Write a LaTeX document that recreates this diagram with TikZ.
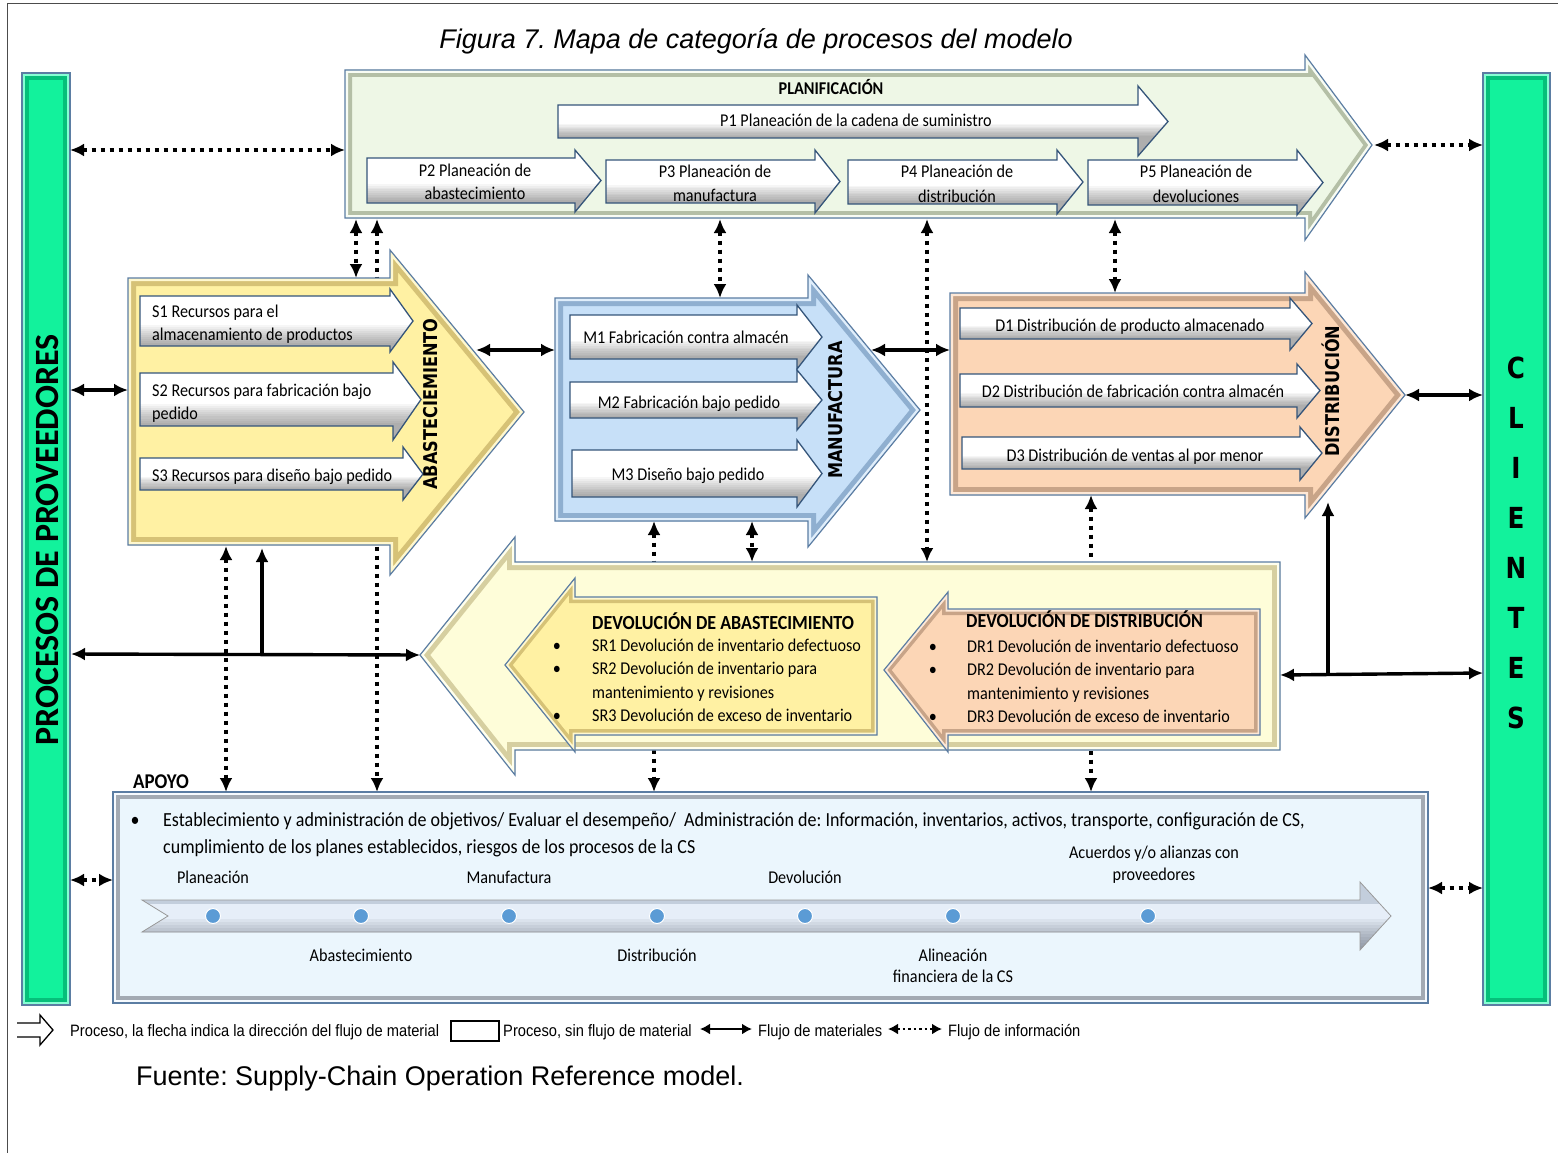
\documentclass[tikz,border=0pt]{standalone}
\usepackage{fontspec}
\setmainfont{Carlito}[FakeStretch=0.9]
\newfontfamily\calfull{Carlito}
\newfontfamily\vsans{DejaVu Sans}[FakeStretch=0.85]
\newfontfamily\arialf{Liberation Sans}
\newfontfamily\arialn{Liberation Sans}[FakeStretch=0.89]
\usetikzlibrary{arrows.meta}

\definecolor{edgeblue}{HTML}{5B7DA3}
\definecolor{procedge}{HTML}{35557A}
\definecolor{planfill}{HTML}{EEF7E6}
\definecolor{plandark}{HTML}{B4BFA6}
\definecolor{planlight}{HTML}{F8FCF4}
\definecolor{abfill}{HTML}{FFF1A3}
\definecolor{abdark}{HTML}{D6C276}
\definecolor{ablight}{HTML}{FFF8CF}
\definecolor{mafill}{HTML}{C7E0F8}
\definecolor{madark}{HTML}{8FAFD0}
\definecolor{malight}{HTML}{E0EEFB}
\definecolor{difill}{HTML}{FCD6B6}
\definecolor{didark}{HTML}{C8A488}
\definecolor{dilight}{HTML}{FEE8D6}
\definecolor{dvfill}{HTML}{FEFDD9}
\definecolor{dvdark}{HTML}{D6CFA0}
\definecolor{dvlight}{HTML}{FFFFEE}
\definecolor{apfill}{HTML}{EBF6FD}
\definecolor{apdark}{HTML}{A3AAB3}
\definecolor{aplight}{HTML}{F6FAFE}
\definecolor{grfill}{HTML}{12F29C}
\definecolor{grdark}{HTML}{06BF7A}
\definecolor{grlight}{HTML}{86FFD3}
\definecolor{dotblue}{HTML}{5B9BD5}
\definecolor{tlhi}{HTML}{C3CEDC}
\definecolor{tlmid}{HTML}{E6EEF8}
\definecolor{tllo}{HTML}{4E5866}

% framed shape: fill, then two inner bands clipped to the outline
\newcommand\bevel[6]{%
  \fill[#2] #1;
  \begin{scope}
    \clip #1;
    \draw[#3, line width=#5] #1;
    \draw[#4, line width=#6] #1;
  \end{scope}
  \draw[edgeblue, line width=1.2pt] #1;
}
% white process arrow: left, top, bottom, head base, head top, tip x, head bottom
% white upper part, greying towards the lower edge
\newcommand\proc[7]{%
  \begin{scope}
    \clip (#1,#2)--(#4,#2)--(#4,#5)--(#6,{(#2+#3)/2})--(#4,#7)--(#4,#3)--(#1,#3)--cycle;
    \fill[white] (#1,#5) rectangle (#6,#7);
    \foreach \i in {0,...,9}
      \fill[black, opacity=0.035] (#1,{#2+(0.58+0.04*\i)*(#3-#2)}) rectangle (#6,#7);
  \end{scope}
  \draw[procedge, line width=1.3pt]
    (#1,#2)--(#4,#2)--(#4,#5)--(#6,{(#2+#3)/2})--(#4,#7)--(#4,#3)--(#1,#3)--cycle;
}

\def\shProv{(22,73)--(70,73)--(70,1005)--(22,1005)--cycle}
\def\shClie{(1483,73)--(1550,73)--(1550,1005)--(1483,1005)--cycle}
\def\shPlan{(345,70)--(1305,70)--(1305,55)--(1372,145)--(1305,240)--(1305,218)--(345,218)--cycle}
\def\shAbas{(128,278)--(390,278)--(390,250)--(524,412)--(390,575)--(390,545)--(128,545)--cycle}
\def\shManu{(555,298)--(808,298)--(808,275)--(920,410)--(808,547)--(808,521)--(555,521)--cycle}
\def\shDist{(950,293)--(1305,293)--(1305,272)--(1405,395)--(1305,518)--(1305,495)--(950,495)--cycle}
\def\shDevo{(1280,562)--(515,562)--(515,537)--(420,655)--(515,775)--(515,750)--(1280,750)--cycle}
\def\shSR{(877,597)--(575,597)--(575,578)--(505,665)--(575,752)--(575,735)--(877,735)--cycle}
\def\shDR{(1260,609)--(948,609)--(948,592)--(884,670)--(948,752)--(948,735)--(1260,735)--cycle}
\def\shApoyo{(113,792)--(1428,792)--(1428,1003)--(113,1003)--cycle}
\def\shLine{(142,900)--(1360,900)--(1360,882)--(1391,916)--(1360,950)--(1360,932)--(142,932)--(168,916)--cycle}

\tikzset{
  flowtip/.tip={Latex[length=14pt,width=13pt]},
  smalltip/.tip={Latex[length=10pt,width=11pt]},
  matflow/.style={line width=3.4pt, {flowtip}-{flowtip}},
  matone/.style={line width=3.4pt, -{flowtip}},
  infoflow/.style={line width=4pt, dash pattern=on 4pt off 5pt, {flowtip}-{flowtip}},
  txt/.style={font=\fontsize{18}{22}\selectfont, inner sep=0pt, anchor=base},
  txtl/.style={txt, anchor=base west},
  hd/.style={font=\fontsize{20}{24}\selectfont\bfseries, inner sep=0pt, anchor=base west},
  vlab/.style={font=\vsans\bfseries\fontsize{19}{22}\selectfont, rotate=90, inner sep=0pt},
  apx/.style={font=\fontsize{20}{24}\selectfont, inner sep=0pt, anchor=base west},
  leg/.style={font=\arialn\fontsize{16.5}{18}\selectfont, inner sep=0pt, anchor=base west},
  tdot/.style={circle, fill=dotblue, draw=white, line width=1pt, minimum size=15pt, inner sep=0pt},
}

\begin{document}
\frenchspacing
\begin{tikzpicture}[x=1pt,y=-1pt]
\useasboundingbox (0,0) rectangle (1558,1153);
\fill[white] (0,0) rectangle (1558,1153);
\draw[black!70, line width=1pt] (7,1153)--(7,4)--(1558,4);

\node[font=\arialf\itshape\fontsize{27}{30}\selectfont, inner sep=0pt, anchor=base] (title) at (756,49)
  {Figura 7. Mapa de categoría de procesos del modelo};

% ---- connector end points ----
\coordinate (pv-1) at (70,150);   \coordinate (pl-w) at (345,150);
\coordinate (pl-e) at (1374,145); \coordinate (cl-1) at (1483,145);
\coordinate (pv-2) at (70,390);   \coordinate (ab-w) at (128,390);
\coordinate (ab-e) at (476,350);  \coordinate (ma-w) at (555,350);
\coordinate (ma-e) at (871,350);  \coordinate (di-w) at (950,350);
\coordinate (di-e) at (1405,395); \coordinate (cl-2) at (1483,395);
\coordinate (pv-3) at (71,654);   \coordinate (dv-w) at (420,655);
\coordinate (j1) at (262,654);    \coordinate (ab-s1) at (262,548);
\coordinate (dv-e) at (1280,675); \coordinate (cl-3) at (1483,673);
\coordinate (j2) at (1328,674);   \coordinate (di-s2) at (1328,502);
\coordinate (pv-4) at (70,880);   \coordinate (ap-w) at (113,880);
\coordinate (ap-e) at (1428,888); \coordinate (cl-4) at (1483,888);
\coordinate (pl-s1) at (356,219); \coordinate (ab-n1) at (356,278);
\coordinate (pl-s2) at (377,219); \coordinate (ap-n2) at (377,792);
\coordinate (ab-s2) at (226,546); \coordinate (ap-n1) at (226,792);
\coordinate (pl-s3) at (720,219); \coordinate (ma-n) at (720,298);
\coordinate (pl-s4) at (927,219); \coordinate (dv-n1) at (927,562);
\coordinate (pl-s5) at (1115,219);\coordinate (di-n) at (1115,293);
\coordinate (ma-s1) at (654,521); \coordinate (ap-n3) at (654,792);
\coordinate (ma-s2) at (752,521); \coordinate (dv-n2) at (752,562);
\coordinate (di-s1) at (1091,495);\coordinate (ap-n4) at (1091,792);

% information lines running behind the process blocks
\draw[infoflow] (pl-s2) -- (ap-n2);
\draw[infoflow] (ma-s1) -- (ap-n3);
\draw[infoflow] (di-s1) -- (ap-n4);

% ---- side bars ----
\bevel{\shProv}{grfill}{grdark}{grlight}{14pt}{6pt}
\bevel{\shClie}{grfill}{grdark}{grlight}{14pt}{6pt}
\node[font=\calfull\bfseries\fontsize{34}{38}\selectfont, rotate=90, inner sep=0pt] (prov) at (47,540)
  {PROCESOS DE PROVEEDORES};
\node[font=\vsans\bfseries\fontsize{29}{49.9}\selectfont, align=center, inner sep=0pt] (clie) at (1516,543)
  {C\\L\\I\\E\\N\\T\\E\\S};

% ---- planning ----
\bevel{\shPlan}{planfill}{plandark}{planlight}{14pt}{6pt}
\node[font=\fontsize{18}{22}\selectfont\bfseries, inner sep=0pt, anchor=base] (plan) at (831,95) {PLANIFICACIÓN};
\proc{558}{105}{138}{1138}{86}{1168}{156}
\proc{367}{158}{203}{575}{150}{601}{212}
\proc{606}{160}{203}{815}{150}{840}{213}
\proc{848}{160}{204}{1057}{150}{1083}{214}
\proc{1088}{160}{205}{1297}{150}{1323}{215}
\node[txt] (p1) at (856,127) {P1 Planeación de la cadena de suministro};
\node[txt] (p2a) at (475,176) {P2 Planeación de};
\node[txt] (p2b) at (475,199) {abastecimiento};
\node[txt] (p3a) at (715,177) {P3 Planeación de};
\node[txt] (p3b) at (715,201) {manufactura};
\node[txt] (p4a) at (957,178) {P4 Planeación de};
\node[txt] (p4b) at (957,202) {distribución};
\node[txt] (p5a) at (1196,178) {P5 Planeación de};
\node[txt] (p5b) at (1196,202) {devoluciones};

% ---- sourcing ----
\bevel{\shAbas}{abfill}{abdark}{ablight}{16pt}{6pt}
\proc{140}{296}{346}{390}{289}{413}{352}
\proc{140}{373}{426}{393}{362}{421}{440}
\proc{140}{458}{490}{403}{447}{423}{500}
\node[txtl] (s1a) at (152,317) {S1 Recursos para el};
\node[txtl] (s1b) at (152,340) {almacenamiento de productos};
\node[txtl] (s2a) at (152,396) {S2 Recursos para fabricación bajo};
\node[txtl] (s2b) at (152,419) {pedido};
\node[txtl] (s3) at (152,481) {S3 Recursos para diseño bajo pedido};
\node[vlab] (abas) at (431,404) {ABASTECIEMIENTO};

% ---- manufacturing ----
\bevel{\shManu}{mafill}{madark}{malight}{16pt}{6pt}
\proc{570}{315}{359}{797}{305}{822}{369}
\proc{570}{382}{418}{797}{370}{822}{430}
\proc{572}{450}{497}{797}{440}{822}{507}
\node[txt] (m1) at (686,343) {M1 Fabricación contra almacén};
\node[txt] (m2) at (689,408) {M2 Fabricación bajo pedido};
\node[txt] (m3) at (688,480) {M3 Diseño bajo pedido};
\node[vlab] (manu) at (836,410) {MANUFACTURA};

% ---- distribution ----
\bevel{\shDist}{difill}{didark}{dilight}{16pt}{6pt}
\proc{960}{308}{339}{1290}{298}{1312}{350}
\proc{960}{374}{407}{1297}{364}{1320}{418}
\proc{962}{437}{469}{1300}{427}{1322}{480}
\node[txt] (d1) at (1130,331) {D1 Distribución de producto almacenado};
\node[txt] (d2) at (1133,397) {D2 Distribución de fabricación contra almacén};
\node[txt] (d3) at (1135,461) {D3 Distribución de ventas al por menor};
\node[vlab] (dist) at (1331,391) {DISTRIBUCIÓN};

% ---- returns ----
\bevel{\shDevo}{dvfill}{dvdark}{dvlight}{16pt}{6pt}
\bevel{\shSR}{abfill}{abdark}{ablight}{12pt}{5pt}
\bevel{\shDR}{difill}{didark}{dilight}{12pt}{5pt}
\node[hd] (sr0) at (592,629) {DEVOLUCIÓN DE ABASTECIMIENTO};
\node[txt] (sr1b) at (557,651) {•};
\node[txtl] (sr1) at (592,651) {SR1 Devolución de inventario defectuoso};
\node[txt] (sr2b) at (557,674) {•};
\node[txtl] (sr2) at (592,674) {SR2 Devolución de inventario para};
\node[txtl] (sr2c) at (592,698) {mantenimiento y revisiones};
\node[txt] (sr3b) at (557,721) {•};
\node[txtl] (sr3) at (592,721) {SR3 Devolución de exceso de inventario};
\node[hd] (dr0) at (966,627) {DEVOLUCIÓN DE DISTRIBUCIÓN};
\node[txt] (dr1b) at (933,652) {•};
\node[txtl] (dr1) at (967,652) {DR1 Devolución de inventario defectuoso};
\node[txt] (dr2b) at (933,675) {•};
\node[txtl] (dr2) at (967,675) {DR2 Devolución de inventario para};
\node[txtl] (dr2c) at (967,699) {mantenimiento y revisiones};
\node[txt] (dr3b) at (933,722) {•};
\node[txtl] (dr3) at (967,722) {DR3 Devolución de exceso de inventario};

% ---- support ----
\bevel{\shApoyo}{apfill}{apdark}{aplight}{14pt}{6pt}
\node[font=\fontsize{21}{24}\selectfont\bfseries, inner sep=0pt, anchor=base west] (apoyo) at (133,788) {APOYO};
\node[font=\fontsize{20}{24}\selectfont, inner sep=0pt, anchor=base] (apb) at (135,826) {•};
\node[apx] (ap1) at (163,826) {Establecimiento y administración de objetivos/ Evaluar el desempeño/~ Administración de: Información, inventarios, activos, transporte, configuración de CS,};
\node[apx] (ap2) at (163,853) {cumplimiento de los planes establecidos, riesgos de los procesos de la CS};
% time line arrow: light upper edge, pale centre, dark lower edge
\begin{scope}
  \clip \shLine;
  \fill[tlhi] (140,880) rectangle (1395,952);
  \fill[tlmid] (140,904) rectangle (1395,952);
  \foreach \i in {0,...,9}
    \fill[tllo, opacity=0.07] (140,{919+3*\i}) rectangle (1395,952);
\end{scope}
\draw[black!40, line width=0.8pt] \shLine;
\foreach \k/\x in {1/213,2/361,3/509,4/657,5/805,6/953,7/1148}
  \node[tdot] (t\k) at (\x,916) {};
\node[txt] (tl1) at (213,883) {Planeación};
\node[txt] (tl3) at (509,883) {Manufactura};
\node[txt] (tl5) at (805,883) {Devolución};
\node[txt] (tl7a) at (1154,858) {Acuerdos y/o alianzas con};
\node[txt] (tl7b) at (1154,880) {proveedores};
\node[txt] (tl2) at (361,961) {Abastecimiento};
\node[txt] (tl4) at (657,961) {Distribución};
\node[txt] (tl6a) at (953,961) {Alineación};
\node[txt] (tl6b) at (953,982) {financiera de la CS};

% ---- flows ----
\draw[infoflow] (pv-1) -- (pl-w);
\draw[infoflow] (pl-e) -- (cl-1);
\draw[matflow] (pv-2) -- (ab-w);
\draw[matflow] (ab-e) -- (ma-w);
\draw[matflow] (ma-e) -- (di-w);
\draw[matflow] (di-e) -- (cl-2);
\draw[matflow] (pv-3) -- (dv-w);
\draw[matone] (j1) -- (ab-s1);
\draw[matflow] (dv-e) -- (cl-3);
\draw[matone] (j2) -- (di-s2);
\draw[infoflow] (pv-4) -- (ap-w);
\draw[infoflow] (ap-e) -- (cl-4);
\draw[infoflow] (pl-s1) -- (ab-n1);
\draw[infoflow] (ab-s2) -- (ap-n1);
\draw[infoflow] (pl-s3) -- (ma-n);
\draw[infoflow] (pl-s4) -- (dv-n1);
\draw[infoflow] (pl-s5) -- (di-n);
\draw[infoflow] (ma-s2) -- (dv-n2);

% ---- legend ----
\draw[line width=1.3pt] (17,1023)--(40,1023)--(40,1015)--(53,1030)--(40,1045)--(40,1037)--(17,1037);
\node[leg] (lg1) at (70,1036) {Proceso, la flecha indica la dirección del flujo de material};
\draw[line width=1.3pt] (451,1021) rectangle (499,1041);
\node[leg] (lg2) at (503,1036) {Proceso, sin flujo de material};
\coordinate (lm-a) at (700,1029); \coordinate (lm-b) at (752,1029);
\draw[line width=2.8pt, {smalltip}-{smalltip}] (lm-a) -- (lm-b);
\node[leg] (lg3) at (758,1036) {Flujo de materiales};
\coordinate (li-a) at (888,1029); \coordinate (li-b) at (942,1029);
\draw[line width=2.8pt, dash pattern=on 2.5pt off 3pt, {smalltip}-{smalltip}] (li-a) -- (li-b);
\node[leg] (lg4) at (948,1036) {Flujo de información};

\node[font=\arialf\fontsize{27}{30}\selectfont, inner sep=0pt, anchor=base west] (src) at (136,1085)
  {Fuente: Supply-Chain Operation Reference model.};
\end{tikzpicture}
\end{document}
